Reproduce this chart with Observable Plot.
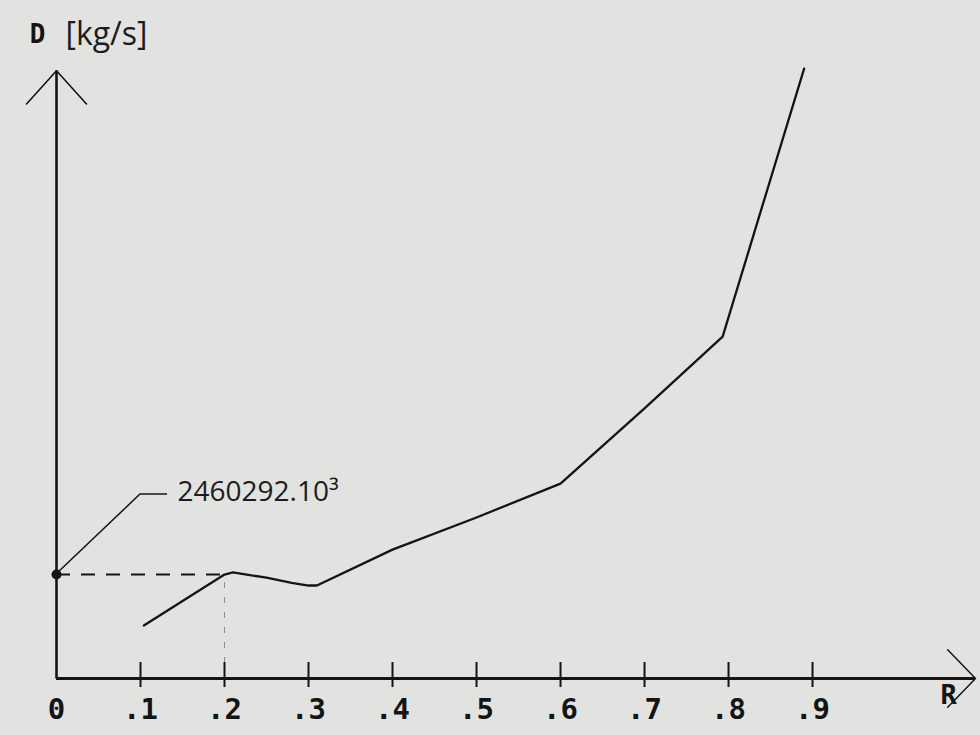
<!DOCTYPE html>
<html>
<head>
<meta charset="utf-8">
<script src="https://cdn.jsdelivr.net/npm/d3@7"></script>
<script src="https://cdn.jsdelivr.net/npm/@observablehq/plot@0.6"></script>
<style>
  html, body { margin: 0; padding: 0; background: #e2e3e0; }
  #chart { width: 980px; height: 735px; }
</style>
</head>
<body>
<div id="chart"></div>
<script>
// ---- data ----
const rValues = [0.104, 0.2, 0.21, 0.25, 0.28, 0.30, 0.31, 0.4, 0.5, 0.6, 0.7, 0.793, 0.89];
const dValues = [1254000, 2460292, 2510000, 2385000, 2265000, 2200000, 2200000, 3050000, 3810000, 4610000, 6390000, 8090000, 14430000];
const tickValues = [0, 0.1, 0.2, 0.3, 0.4, 0.5, 0.6, 0.7, 0.8, 0.9];
const tickLabels = ["0", ".1", ".2", ".3", ".4", ".5", ".6", ".7", ".8", ".9"];
const refR = 0.2;
const refD = 2460292;
const refLabel = "2460292.10\u00B3";
const yLabel = "D";
const yUnit = "[kg/s]";
const xLabel = "R";
const xAxisEnd = 1.094;
const yAxisEnd = 14380000;
const yDomainMax = 15000000;

const ink = "#141414";
const data = rValues.map((r, i) => ({ r, d: dValues[i] }));

function leader(index, scales) {
  const x0 = scales.x(0), y0 = scales.y(refD);
  return d3.create("svg:path")
    .attr("d", `M${x0},${y0}L${x0 + 84},${y0 - 80}h27`)
    .attr("fill", "none")
    .attr("stroke", ink)
    .attr("stroke-width", 1.5)
    .node();
}

const chart = Plot.plot({
  width: 980,
  height: 735,
  marginLeft: 56,
  marginRight: 5,
  marginTop: 44,
  marginBottom: 57,
  style: { background: "transparent", overflow: "visible" },
  x: { domain: [0, xAxisEnd], axis: null },
  y: { domain: [0, yDomainMax], axis: null },
  marks: [
    // faint vertical guide at the reference point
    Plot.ruleX([refR], { y1: 0, y2: refD, stroke: "#8c8c8c", strokeWidth: 1, strokeDasharray: "6,9" }),
    // dashed horizontal guide to the D axis
    Plot.ruleY([refD], { x1: 0, x2: refR, stroke: ink, strokeWidth: 1.8, strokeDasharray: "14,11" }),
    // axes
    Plot.ruleY([0], { x1: 0, x2: xAxisEnd, stroke: ink, strokeWidth: 2.8 }),
    Plot.ruleX([0], { y1: 0, y2: yAxisEnd, stroke: ink, strokeWidth: 2.4 }),
    Plot.arrow([{ x1: 0, y1: 0, x2: xAxisEnd, y2: 0 }], {
      x1: "x1", y1: "y1", x2: "x2", y2: "y2",
      stroke: ink, strokeWidth: 1.5, headLength: 40, headAngle: 92
    }),
    Plot.arrow([{ x1: 0, y1: 0, x2: 0, y2: yAxisEnd }], {
      x1: "x1", y1: "y1", x2: "x2", y2: "y2",
      stroke: ink, strokeWidth: 1.6, headLength: 42, headAngle: 84
    }),
    // tick marks crossing the R axis
    Plot.ruleX(tickValues.slice(1), { y1: 0, y2: 0, insetTop: -16, insetBottom: -9, stroke: ink, strokeWidth: 2 }),
    // tick labels
    Plot.text(tickValues, {
      x: d => d, y: 0, text: (d, i) => tickLabels[i], dy: 31,
      fontSize: 29, fontWeight: "bold", fontFamily: "DejaVu Sans Mono", fill: ink,
      ariaLabel: "ticklabels"
    }),
    // the curve
    Plot.line(data, { x: "r", y: "d", stroke: ink, strokeWidth: 2.3 }),
    // annotated value on D axis
    Plot.dot([refD], { x: 0, y: d => d, r: 5, fill: ink, stroke: "none" }),
    leader,
    Plot.text([refD], {
      x: 0, y: d => d, text: () => refLabel, dx: 121, dy: -82,
      textAnchor: "start", lineAnchor: "middle",
      fontSize: 28, fontWeight: 400, fontFamily: "Open Sans", fill: "#1c1c1c",
      ariaLabel: "refvalue"
    }),
    // axis titles
    Plot.text([yLabel], {
      frameAnchor: "top-left", text: d => d, dx: -19, dy: -10,
      textAnchor: "middle", lineAnchor: "middle",
      fontSize: 26, fontWeight: "bold", fontFamily: "DejaVu Sans Mono", fill: ink
    }),
    Plot.text([yUnit], {
      frameAnchor: "top-left", text: d => d, dx: 50, dy: -10,
      textAnchor: "middle", lineAnchor: "middle",
      fontSize: 32, fontWeight: 400, fontFamily: "Open Sans", fill: "#1c1c1c",
      ariaLabel: "yunit"
    }),
    Plot.text([xLabel], {
      frameAnchor: "bottom-right", text: d => d, dx: -27, dy: 17,
      textAnchor: "middle", lineAnchor: "middle",
      fontSize: 27, fontWeight: "bold", fontFamily: "DejaVu Sans Mono", fill: ink
    })
  ]
});

d3.select(chart).selectAll('g[aria-label="refvalue"] text').style("letter-spacing", "5px");
d3.select(chart).selectAll('g[aria-label="yunit"] text').style("letter-spacing", "7px");
d3.select(chart).selectAll('g[aria-label="ticklabels"] text').style("letter-spacing", "-3px");
document.getElementById("chart").appendChild(chart);
</script>
</body>
</html>
